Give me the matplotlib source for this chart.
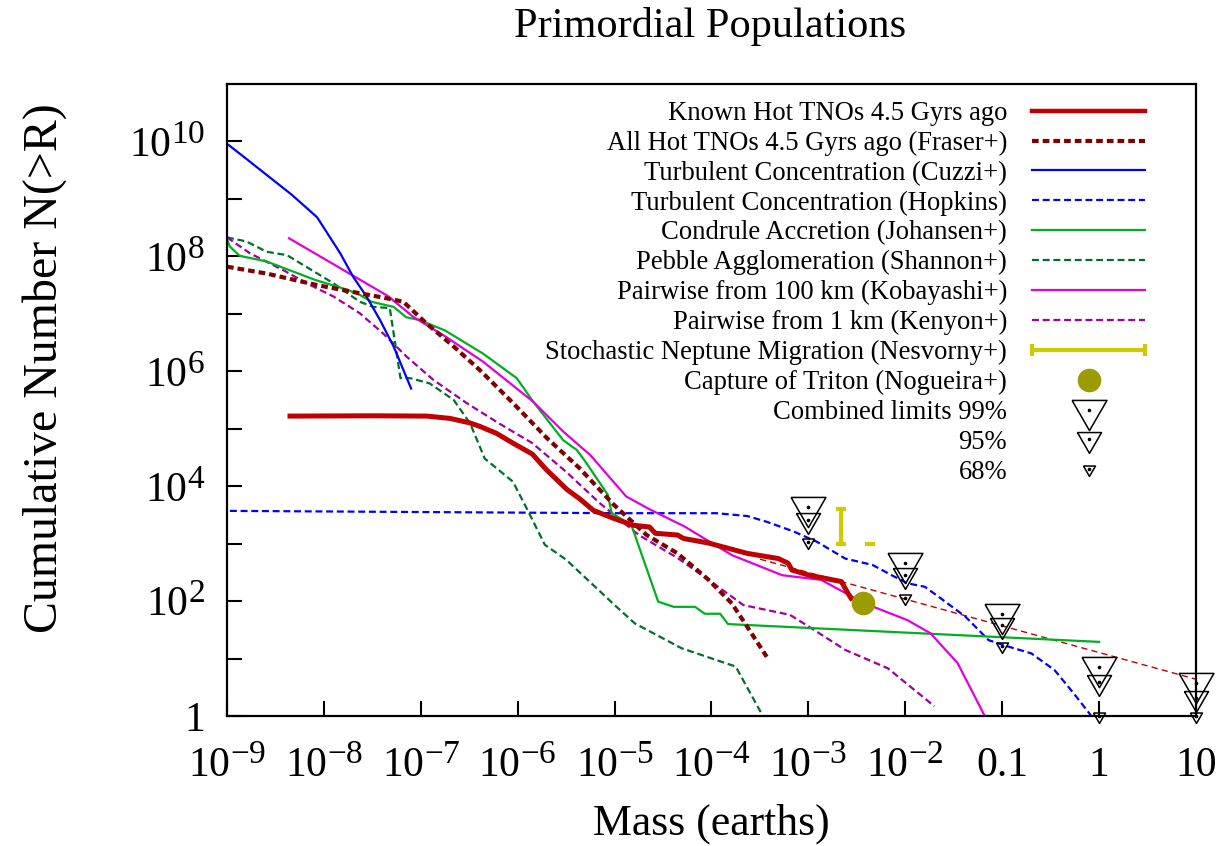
import matplotlib
matplotlib.use('Agg')
import matplotlib.pyplot as plt
import matplotlib._mathtext as mathtext_internal
import numpy as np
from matplotlib.lines import Line2D
from matplotlib.legend_handler import HandlerLine2D, HandlerTuple

plt.rcParams['font.family'] = ['Liberation Serif', 'DejaVu Serif']
plt.rcParams['mathtext.fontset'] = 'custom'
plt.rcParams['mathtext.rm'] = 'Liberation Serif'
plt.rcParams['mathtext.it'] = 'Liberation Serif:italic'
plt.rcParams['mathtext.bf'] = 'Liberation Serif:bold'
plt.rcParams['lines.scale_dashes'] = False
# gnuplot draws exponents at about 0.8 of the base size
mathtext_internal.SHRINK_FACTOR = 0.8

# all values as log10(mass in earths), log10(N)
known_logm = [-8.35, -7.5, -6.94, -6.70, -6.49, -6.39, -6.22, -6.05, -5.85, -5.70, -5.49,
              -5.36, -5.22, -5.01, -4.81, -4.64, -4.58, -4.35, -4.29, -4.03, -3.63, -3.31,
              -3.21, -3.17, -2.99, -2.66, -2.60, -2.56]
known_logn = [5.22, 5.225, 5.22, 5.18, 5.10, 5.04, 4.92, 4.75, 4.56, 4.28, 3.94,
              3.78, 3.58, 3.44, 3.32, 3.29, 3.18, 3.15, 3.09, 3.01, 2.83, 2.74,
              2.66, 2.54, 2.45, 2.34, 2.16, 2.05]

fit_logm = [-3.5, 1.0]
fit_logn = [2.73, 0.64]

fraser_logm = [-9.0, -8.59, -8.07, -7.73, -7.35, -7.18, -6.94, -6.66, -6.39, -6.05, -5.70,
               -5.36, -5.01, -4.67, -4.35, -4.03, -3.79, -3.63, -3.43]
fraser_logn = [7.82, 7.70, 7.50, 7.39, 7.27, 7.21, 6.83, 6.43, 6.02, 5.45, 4.84,
               4.31, 3.68, 3.15, 2.83, 2.37, 1.96, 1.55, 1.03]

cuzzi_logm = [-9.0, -8.81, -8.33, -8.07, -7.83, -7.70, -7.56, -7.42, -7.28, -7.10]
cuzzi_logn = [9.96, 9.71, 9.07, 8.68, 8.05, 7.65, 7.30, 6.89, 6.43, 5.70]

hopkins_logm = [-8.97, -7.0, -5.0, -3.95, -3.63, -3.43, -3.15, -2.91, -2.62, -2.34, -2.14,
                -1.98, -1.80, -1.66, -1.38, -1.14, -0.94, -0.70, -0.46, -0.26, -0.08]
hopkins_logn = [3.57, 3.55, 3.53, 3.53, 3.48, 3.38, 3.21, 3.03, 2.74, 2.63, 2.45,
                2.31, 2.25, 2.08, 1.73, 1.32, 1.21, 1.09, 0.80, 0.39, 0.0]

johansen_logm = [-9.0, -8.97, -8.87, -8.59, -8.09, -7.76, -7.63, -7.51, -7.28, -7.15, -7.01,
                 -6.75, -6.36, -6.01, -5.84, -5.53, -5.39, -5.29, -5.07, -5.03, -4.88, -4.82,
                 -4.55, -4.39, -4.17, -4.07, -3.91, -3.83, 0.0]
johansen_logn = [8.29, 8.17, 8.01, 7.91, 7.59, 7.42, 7.33, 7.21, 7.12, 6.94, 6.89,
                 6.71, 6.31, 5.88, 5.47, 4.80, 4.63, 4.40, 3.85, 3.53, 3.38, 3.29,
                 1.99, 1.90, 1.90, 1.78, 1.78, 1.60, 1.29]

shannon_logm = [-9.0, -8.80, -8.59, -8.38, -7.90, -7.63, -7.49, -7.32, -7.21, -7.11, -6.91,
                -6.66, -6.49, -6.34, -6.05, -5.90, -5.72, -5.50, -4.98, -4.79, -4.31, -3.75,
                -3.47]
shannon_logn = [8.33, 8.26, 8.08, 8.02, 7.53, 7.21, 7.12, 7.10, 5.88, 5.88, 5.79,
                5.50, 5.09, 4.48, 4.08, 3.59, 2.98, 2.72, 1.90, 1.61, 1.18, 0.86,
                0.0]

kobayashi_logm = [-8.36, -7.34, -7.08, -6.75, -6.36, -5.84, -5.53, -5.25, -4.88, -4.63, -4.28,
                  -3.79, -3.27, -2.87, -2.42, -1.98, -1.74, -1.46, -1.18]
kobayashi_logn = [8.315, 7.31, 6.95, 6.61, 6.17, 5.47, 4.95, 4.54, 3.82, 3.59, 3.30,
                  2.80, 2.45, 2.37, 1.96, 1.67, 1.44, 0.92, 0.0]

kenyon_logm = [-9.0, -8.76, -8.42, -8.14, -7.90, -7.63, -7.39, -7.15, -6.87, -6.53, -6.20,
               -5.85, -5.50, -5.15, -4.75, -4.35, -4.03, -3.67, -3.19, -2.99, -2.62, -2.18,
               -1.70]
kenyon_logn = [8.33, 8.05, 7.76, 7.50, 7.30, 7.01, 6.66, 6.26, 5.85, 5.45, 5.10,
               4.75, 4.25, 3.70, 3.15, 2.75, 2.37, 1.93, 1.76, 1.55, 1.15, 0.83,
               0.17]

# Nesvorny: two error bars (log10 mass, low, high)
nesv_logm = [-2.664, -2.364]
nesv_lo = [3.0, 3.0]
nesv_hi = [3.61, 3.0]

triton_logm = [-2.435]
triton_logn = [1.97]

lim_logm = [-3.0, -2.0, -1.0, 0.0, 1.0]
lim99_logn = [3.63, 2.66, 1.78, 0.85, 0.57]
lim95_logn = [3.41, 2.45, 1.58, 0.60, 0.31]
lim68_logn = [3.02, 2.05, 1.21, 0.0, 0.0]

labels = ['Known Hot TNOs 4.5 Gyrs ago',
          'All Hot TNOs 4.5 Gyrs ago (Fraser+)',
          'Turbulent Concentration (Cuzzi+)',
          'Turbulent Concentration (Hopkins)',
          'Condrule Accretion (Johansen+)',
          'Pebble Agglomeration (Shannon+)',
          'Pairwise from 100 km (Kobayashi+)',
          'Pairwise from 1 km (Kenyon+)',
          'Stochastic Neptune Migration (Nesvorny+)',
          'Capture of Triton (Nogueira+)',
          'Combined limits 99%',
          '95%',
          '68%']

xtick_exp = [-9, -8, -7, -6, -5, -4, -3, -2, -1, 0, 1]
xtick_labels = [r'$10^{-9}$', r'$10^{-8}$', r'$10^{-7}$', r'$10^{-6}$', r'$10^{-5}$',
                r'$10^{-4}$', r'$10^{-3}$', r'$10^{-2}$', '0.1', '1', '10']
ytick_exp = list(range(0, 11))
ytick_labels = ['1', '', r'$10^{2}$', '', r'$10^{4}$', '', r'$10^{6}$', '',
                r'$10^{8}$', '', r'$10^{10}$']

c_known = '#c00000'
c_fraser = '#800000'
c_blue = '#0000ff'
c_green = '#00b020'
c_dgreen = '#007028'
c_mag = '#e000e0'
c_purp = '#a000a0'
c_yel = '#cccc00'
c_oli = '#9c9c00'

thin_dash = (0, (5.0, 2.7))
fat_dash = (0, (4.8, 2.9))

# triangle pointing down, centred on its centroid
tri = [(-1, 0.577), (1, 0.577), (0, -1.155), (-1, 0.577)]


def p(v):
    return 10.0 ** np.asarray(v, dtype=float)


fig = plt.figure(figsize=(12.22, 8.46), dpi=100)
ax = fig.add_axes([227 / 1222, 1 - 716 / 846, 969 / 1222, 632 / 846])

ax.plot(p(fit_logm), p(fit_logn), color=c_known, lw=1.0, linestyle=(0, (4.5, 3.0)))
ax.plot(p(hopkins_logm), p(hopkins_logn), color=c_blue, lw=1.6, linestyle=thin_dash)
ax.plot(p(shannon_logm), p(shannon_logn), color=c_dgreen, lw=1.6, linestyle=thin_dash)
ax.plot(p(kenyon_logm), p(kenyon_logn), color=c_purp, lw=1.6, linestyle=thin_dash)
ax.plot(p(johansen_logm), p(johansen_logn), color=c_green, lw=1.6)
ax.plot(p(kobayashi_logm), p(kobayashi_logn), color=c_mag, lw=1.6)
ax.plot(p(cuzzi_logm), p(cuzzi_logn), color=c_blue, lw=1.6)
ax.plot(p(fraser_logm), p(fraser_logn), color=c_fraser, lw=3.0, linestyle=fat_dash)
ax.plot(p(known_logm), p(known_logn), color=c_known, lw=3.6)

nm = p(nesv_logm)
lo = p(nesv_lo)
hi = p(nesv_hi)
ax.errorbar(nm, lo, yerr=[np.zeros(len(nm)), hi - lo], fmt='none', ecolor=c_yel,
            elinewidth=3.0, capsize=3.8, capthick=3.0, zorder=4)

ax.plot(p(triton_logm), p(triton_logn), ls='none', marker='o', ms=16, color=c_oli, zorder=5)

for vals, ms in [(lim99_logn, 29), (lim95_logn, 20), (lim68_logn, 10)]:
    ax.plot(p(lim_logm), p(vals), ls='none', marker=tri, ms=ms, mfc='none', mec='black',
            mew=1.1, clip_on=False, zorder=6)
    ax.plot(p(lim_logm), p(vals), ls='none', marker='o', ms=1.6, color='black',
            clip_on=False, zorder=6)

ax.set_xscale('log')
ax.set_yscale('log')
ax.set_xlim(1e-9, 10)
ax.set_ylim(1, 1e11)
ax.set_xticks(p(xtick_exp), labels=xtick_labels)
ax.set_yticks(p(ytick_exp), labels=ytick_labels)
ax.xaxis.set_minor_locator(matplotlib.ticker.NullLocator())
ax.yaxis.set_minor_locator(matplotlib.ticker.NullLocator())
ax.tick_params(direction='in', length=11, width=1.5, labelsize=30, top=False, right=False)
ax.tick_params(axis='x', pad=22)
ax.tick_params(axis='y', pad=16)
for s in ax.spines.values():
    s.set_linewidth(1.6)

ax.set_xlabel('Mass (earths)', fontsize=31.5)
ax.xaxis.set_label_coords(0.5, -0.139)
ax.set_ylabel('Cumulative Number N(>R)', fontsize=34.5)
ax.yaxis.set_label_coords(-0.165, 0.551)
fig.text(710 / 1222, 1 - 37 / 846, 'Primordial Populations', fontsize=30.5,
         ha='center', va='baseline')

# legend handles
handles = [
    Line2D([], [], color=c_known, lw=3.2),
    Line2D([], [], color=c_fraser, lw=3.0, linestyle=fat_dash),
    Line2D([], [], color=c_blue, lw=1.6),
    Line2D([], [], color=c_blue, lw=1.6, linestyle=thin_dash),
    Line2D([], [], color=c_green, lw=1.6),
    Line2D([], [], color=c_dgreen, lw=1.6, linestyle=thin_dash),
    Line2D([], [], color=c_mag, lw=1.6),
    Line2D([], [], color=c_purp, lw=1.6, linestyle=thin_dash),
]
h_stoch = Line2D([], [], color=c_yel, lw=3.0, marker='|', ms=8, mew=3.0)
handles.append(h_stoch)
handles.append(Line2D([], [], ls='none', marker='o', ms=16, color=c_oli))
for ms in [29, 20, 10]:
    handles.append((Line2D([], [], ls='none', marker=tri, ms=ms, mfc='none', mec='black', mew=1.1),
                    Line2D([], [], ls='none', marker='o', ms=1.6, color='black')))

fs = 19.2
leg = ax.legend(handles, labels, loc='upper right', bbox_to_anchor=(1145 / 1222, 1 - 101 / 846),
                bbox_transform=fig.transFigure, frameon=False, markerfirst=False, fontsize=fs,
                handlelength=113 / (fs * 100 / 72), handletextpad=25 / (fs * 100 / 72),
                labelspacing=0.18, borderpad=0, borderaxespad=0,
                handler_map={h_stoch: HandlerLine2D(numpoints=2, marker_pad=0),
                             tuple: HandlerTuple(ndivide=1)})

fig.savefig('out.png', dpi=100)
